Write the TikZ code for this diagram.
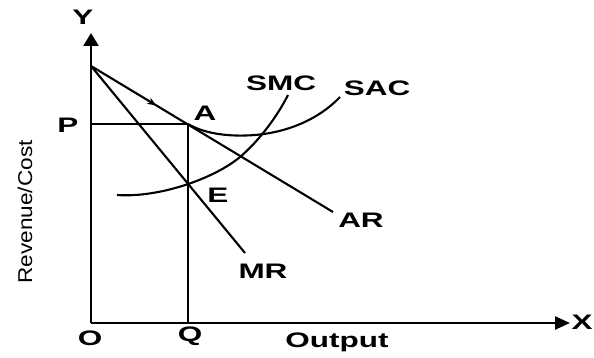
\documentclass[tikz,border=0pt]{standalone}
\usepackage{fontspec}
\setmainfont{Liberation Sans}
\usetikzlibrary{arrows.meta,decorations.markings}
\tikzset{
  curve/.style={line width=2.1pt,black},
  axis/.style={line width=2.4pt,black},
  lbl/.style={font=\fontsize{21}{21}\selectfont\bfseries,inner sep=0pt,xscale=1.5},
}
\begin{document}
\begin{tikzpicture}[x=1pt,y=-1pt]
\useasboundingbox (0,0) rectangle (594,358);
\fill[white] (0,0) rectangle (594,358);
% key points
\coordinate (O) at (91,323);
\coordinate (Ytip) at (91,33);
\coordinate (Xtip) at (570,323);
\coordinate (T) at (91,66);
\coordinate (A) at (188,124);
\coordinate (E) at (188,183);
\coordinate (Q) at (188,323);
\coordinate (Pp) at (91,124);
\coordinate (ARend) at (333,212);
\coordinate (MRend) at (245,253);
\coordinate (SMCs) at (117,195);
\coordinate (SMCm) at (240,157);
\coordinate (SMCe) at (288,95);
\coordinate (SACm) at (255,135);
\coordinate (SACe) at (340,97);
% axes
\draw[axis,-{Triangle[length=13pt,width=15pt]}] (O) -- (Ytip);
\draw[axis,-{Triangle[length=15pt,width=13pt]}] (O) -- (Xtip);
% price and quantity lines
\draw[curve] (Pp) -- (A);
\draw[curve] (Q) -- (A);
% AR with small arrow
\draw[curve,decoration={markings,mark=at position 0.27 with {\arrow{Stealth[length=9pt,width=7pt]}}},postaction={decorate}] (T) -- (ARend);
% MR
\draw[curve] (T) -- (MRend);
% SMC
\draw[curve] (SMCs) .. controls (160,198) and (215,178) .. (SMCm) .. controls (260,140) and (278,115) .. (SMCe);
% SAC
\draw[curve] (A) .. controls (205,134) and (230,137) .. (SACm) .. controls (290,132) and (320,118) .. (SACe);
% labels
\node[lbl] (lY) at (83,17) {Y};
\node[lbl] (lX) at (582,322) {X};
\node[lbl] (lO) at (90,338) {O};
\node[lbl] (lQ) at (190,336) {Q};
\node[lbl] (lP) at (68,125) {P};
\node[lbl] (lA) at (205,113) {A};
\node[lbl] (lE) at (218,195) {E};
\node[lbl] (lSMC) at (281,83) {SMC};
\node[lbl] (lSAC) at (377,88) {SAC};
\node[lbl] (lAR) at (361,220) {AR};
\node[lbl] (lMR) at (263,271) {MR};
\node[lbl] (lOut) at (337,342) {Output};
\node[inner sep=0pt,rotate=90,font=\fontsize{20}{20}\selectfont,xscale=1.13] (lRC) at (25,212) {Revenue/Cost};
\end{tikzpicture}
\end{document}
